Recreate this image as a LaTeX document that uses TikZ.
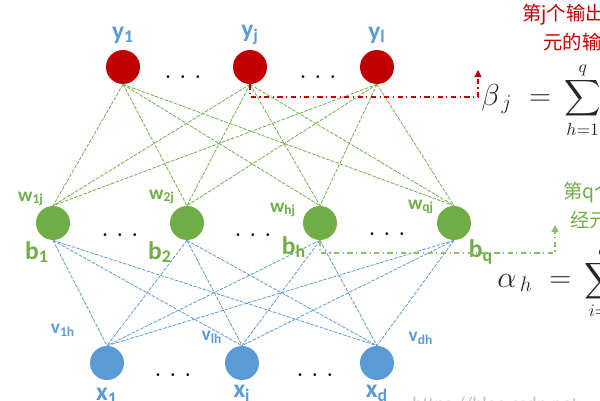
\documentclass[tikz,border=0pt]{standalone}
\usepackage{amsmath}
\usepackage{amssymb}
\usepackage{xcolor}
\usepackage{fontspec}
\setsansfont{Carlito}
\newfontfamily\cjk{Noto Sans CJK SC}
\usepackage{tikz}
\usetikzlibrary{positioning,arrows.meta}
\definecolor{outred}{HTML}{C00000}
\definecolor{hidgreen}{HTML}{70AD47}
\definecolor{inblue}{HTML}{5B9BD5}

\begin{document}
\begin{tikzpicture}[x=0.02cm,y=-0.02cm,
    neuron/.style={circle,minimum size=0.68cm,inner sep=0pt},
    outn/.style={neuron,fill=outred},
    hidn/.style={neuron,fill=hidgreen},
    inn/.style={neuron,fill=inblue},
    wline/.style={hidgreen,line width=0.45pt,dash pattern=on 2pt off 0.8pt},
    vline/.style={inblue,line width=0.45pt,dash pattern=on 2pt off 0.8pt},
    biglab/.style={font=\sffamily\bfseries\fontsize{14.5}{16}\selectfont,inner sep=0pt},
    smalllab/.style={font=\sffamily\bfseries\fontsize{11}{12}\selectfont,inner sep=0pt},
    dotsn/.style={font=\bfseries\fontsize{11}{12}\selectfont,inner sep=0pt},
    cjktxt/.style={font=\cjk\fontsize{11}{12}\selectfont,inner sep=0pt,anchor=west},
    formula/.style={font=\LARGE,text=black!85,inner sep=0pt,anchor=west}
  ]
			% 画布大小
			\useasboundingbox (0,0) rectangle (600,400);
			\clip (0,0) rectangle (600,400);
			% 输出层
			\node[outn] (y1) at (123,67) {};
			\node[outn] (yj) at (250,67) {};
			\node[outn] (yl) at (377,67) {};
			% 隐层
			\node[hidn] (b1) at (53,223) {};
			\node[hidn] (b2) at (187,223) {};
			\node[hidn] (bh) at (320,223) {};
			\node[hidn] (bq) at (454,223) {};
			% 输入层
			\node[inn] (x1) at (107,363) {};
			\node[inn] (xi) at (242,363) {};
			\node[inn] (xd) at (377,363) {};
			% 连接线
			\foreach \o in {y1,yj,yl}
				\foreach \h in {b1,b2,bh,bq}
					\draw[wline] (\o.south) -- (\h.north);
			\foreach \h in {b1,b2,bh,bq}
				\foreach \i in {x1,xi,xd}
					\draw[vline] (\h.south) -- (\i.north);
			% 标签
			\node[biglab,text=inblue] (ylab1) at (123,35) {y\textsubscript{1}};
			\node[biglab,text=inblue] (ylabj) at (250,35) {y\textsubscript{j}};
			\node[biglab,text=inblue] (ylabl) at (377,35) {y\textsubscript{l}};
			\node[smalllab,text=hidgreen] (w1j) at (31,199) {w\textsubscript{1j}};
			\node[smalllab,text=hidgreen] (w2j) at (162,197) {w\textsubscript{2j}};
			\node[smalllab,text=hidgreen] (whj) at (283,210) {w\textsubscript{hj}};
			\node[smalllab,text=hidgreen] (wqj) at (421,207) {w\textsubscript{qj}};
			\node[biglab,text=hidgreen] (blab1) at (37,252) {b\textsubscript{1}};
			\node[biglab,text=hidgreen] (blab2) at (160,252) {b\textsubscript{2}};
			\node[biglab,text=hidgreen] (blabh) at (294,247) {b\textsubscript{h}};
			\node[biglab,text=hidgreen] (blabq) at (481,252) {b\textsubscript{q}};
			\node[smalllab,text=inblue] (v1h) at (63,330) {v\textsubscript{1h}};
			\node[smalllab,text=inblue] (vlh) at (212,337) {v\textsubscript{lh}};
			\node[smalllab,text=inblue] (vdh) at (421,338) {v\textsubscript{dh}};
			\node[biglab,text=inblue] (xlab1) at (107,396) {x\textsubscript{1}};
			\node[biglab,text=inblue] (xlabi) at (242,393) {x\textsubscript{i}};
			\node[biglab,text=inblue] (xlabd) at (377,393) {x\textsubscript{d}};
			% 省略号
			\foreach \p [count=\k] in {(183,77),(318,77),(120,235),(253,235),(387,234),(173,375),(315,375)}
				\node[dotsn] (dots\k) at \p {.\hspace{5pt}.\hspace{5pt}.};
			% 虚线箭头
			\coordinate (redend) at (478,70);
			\coordinate (greenend) at (555,225);
			\draw[outred,line width=0.6pt,dash dot,-{Triangle[length=4pt,width=4pt]}]
				(yj.south) |- (redend |- 0,97) -- (redend);
			\draw[hidgreen!80,line width=0.6pt,dash dot,-{Triangle[length=4pt,width=4pt]}]
				(bh.south) |- (greenend |- 0,253) -- (greenend);
			% 公式
			\node[formula] (beta) at (481,100) {$\beta_{\,j} \;=\, \mbox{\Large$\displaystyle\sum_{h=1}^{q}$} w_{hj} b_h$};
			\node[formula] (alpha) at (497,280) {$\alpha_{\,h} \;=\, \mbox{\Large$\displaystyle\sum_{i=1}^{d}$} v_{ih} x_i$};
			% 说明文字
			\node[cjktxt,text=outred] (redA) at (522,15) {第j个输出神经};
			\node[cjktxt,text=outred] (redB) at (543,42) {元的输入};
			\node[cjktxt,text=hidgreen] (greenA) at (563,193) {第q个隐层神};
			\node[cjktxt,text=hidgreen] (greenB) at (570,220) {经元的输入};
			% 水印
			\node[font=\sffamily\fontsize{11}{12}\selectfont,text=black!25,anchor=north west,inner sep=0pt] (mark) at (412,397) {https://blog.csdn.net};
		\end{tikzpicture}
\end{document}
